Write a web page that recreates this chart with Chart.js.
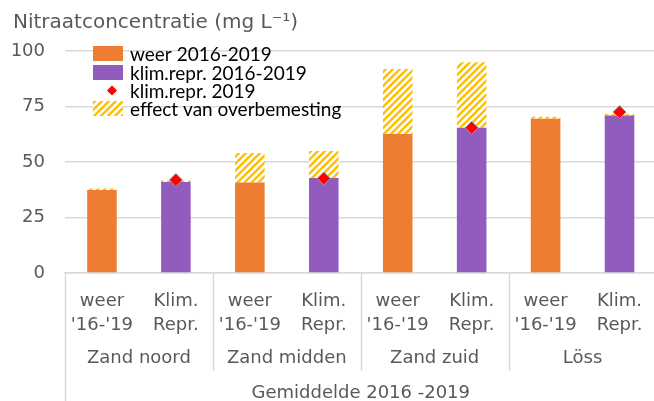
<!DOCTYPE html>
<html>
<head>
<meta charset="utf-8">
<script src="https://cdn.jsdelivr.net/npm/chart.js@4"></script>
<style>
  html, body { margin: 0; padding: 0; overflow: hidden; background: #fff; }
  #wrap { width: 664px; height: 401px; }
</style>
</head>
<body>
<div id="wrap"><canvas id="nitraat" width="664" height="401"></canvas></div>
<script>
/* -------- DATA -------- */
const categories = [
  ["weer", "'16-'19"], ["Klim.", "Repr."],
  ["weer", "'16-'19"], ["Klim.", "Repr."],
  ["weer", "'16-'19"], ["Klim.", "Repr."],
  ["weer", "'16-'19"], ["Klim.", "Repr."]
];
const groups = ["Zand noord", "Zand midden", "Zand zuid", "Löss"];
const overallLabel = "Gemiddelde 2016 -2019";

const weer = [37.4, null, 40.8, null, 62.6, null, 69.5, null];
const klimRepr = [null, 41.0, null, 42.8, null, 65.4, null, 70.9];
const klimRepr2019 = [null, 41.9, null, 42.6, null, 65.4, null, 72.5];
const overbemesting = [0.7, 0.7, 13.2, 12.2, 29.3, 29.5, 0.9, 0.7];

const yTicks = [0, 25, 50, 75, 100];

/* -------- STYLE -------- */
const ORANGE = "#ED7D31";
const PURPLE = "#925CBE";
const YELLOW = "#FFC000";
const GREY_TXT = "#595959";
const GRID = "#D9D9D9";

// diagonal hatch for "effect van overbemesting"
function makeHatch(){
  const c = document.createElement("canvas");
  c.width = 7; c.height = 7;
  const g = c.getContext("2d");
  g.fillStyle = "#fff";
  g.fillRect(0, 0, 7, 7);
  g.strokeStyle = YELLOW;
  g.lineWidth = 2.4;
  g.beginPath();
  g.moveTo(-1, 8); g.lineTo(8, -1);
  g.moveTo(-4, 4); g.lineTo(4, -4);
  g.moveTo(3, 11); g.lineTo(11, 3);
  g.stroke();
  return document.getElementById("nitraat").getContext("2d").createPattern(c, "repeat");
}
const hatch = makeHatch();

/* -------- LEGEND INSIDE PLOT -------- */
const insideLegend = {
  id: "insideLegend",
  afterDraw(chart){
    const ctx = chart.ctx;
    const rows = [53.5, 72.5, 90.5, 108.5];
    ctx.save();
    ctx.font = "19px Lato";
    ctx.textBaseline = "middle";
    chart.data.datasets.forEach((ds, i) => {
      const y = rows[i];
      if (ds.type === "line"){
        ctx.save();
        ctx.translate(112, y);
        ctx.rotate(Math.PI / 4);
        ctx.fillStyle = ds.pointBackgroundColor;
        ctx.fillRect(-3.6, -3.6, 7.2, 7.2);
        ctx.restore();
      } else {
        ctx.fillStyle = ds.backgroundColor;
        ctx.fillRect(93, y - 7.5, 30, 15);
      }
      ctx.fillStyle = "#000";
      ctx.fillText(ds.label, 130, y + 1);
    });
    ctx.restore();
  }
};

/* -------- GROUP LABELS UNDER AXIS -------- */
const groupAxis = {
  id: "groupAxis",
  afterDraw(chart){
    const ctx = chart.ctx;
    const x = chart.scales.x;
    const bottom = chart.chartArea.bottom;
    const gw = (x.right - x.left) / groups.length;
    ctx.save();
    ctx.strokeStyle = GRID;
    ctx.lineWidth = 1.5;
    for (let g = 0; g <= groups.length; g++){
      const px = Math.round(x.left + g * gw) + 0.5;
      ctx.beginPath();
      ctx.moveTo(px, bottom);
      ctx.lineTo(px, g === 0 ? chart.height : 371);
      ctx.stroke();
    }
    ctx.fillStyle = GREY_TXT;
    ctx.font = "18px 'DejaVu Sans'";
    ctx.textAlign = "center";
    ctx.textBaseline = "middle";
    groups.forEach((name, g) => {
      ctx.fillText(name, x.left + (g + 0.5) * gw, 358);
    });
    ctx.fillText(overallLabel, (x.left + x.right) / 2, 393);
    ctx.restore();
  }
};

/* -------- CHART -------- */
new Chart(document.getElementById("nitraat"), {
  data: {
    labels: categories,
    datasets: [
      { type: "bar", label: "weer 2016-2019", data: weer,
        backgroundColor: ORANGE, stack: "s", order: 2 },
      { type: "bar", label: "klim.repr. 2016-2019", data: klimRepr,
        backgroundColor: PURPLE, stack: "s", order: 2 },
      { type: "line", label: "klim.repr. 2019", data: klimRepr2019,
        showLine: false, pointStyle: "rectRot", pointRadius: 6.5,
        pointBackgroundColor: "#FF0000", pointBorderColor: "#9A9A9A",
        pointBorderWidth: 1, stack: "pts", order: 0 },
      { type: "bar", label: "effect van overbemesting", data: overbemesting,
        backgroundColor: hatch, stack: "s", order: 2 }
    ]
  },
  options: {
    responsive: false,
    animation: false,
    layout: { padding: { left: 13, right: 0, top: 0, bottom: 0 } },
    datasets: { bar: { barPercentage: 0.4, categoryPercentage: 1.0 } },
    scales: {
      x: {
        stacked: true,
        grid: { display: false },
        border: { display: true, color: GRID, width: 1.5 },
        ticks: {
          color: GREY_TXT, font: { family: "DejaVu Sans", size: 18, lineHeight: 1.3 },
          autoSkip: false, maxRotation: 0, padding: 9
        },
        afterFit: s => { s.height = 128; }
      },
      y: {
        stacked: true,
        min: 0, max: 100,
        afterBuildTicks: s => { s.ticks = yTicks.map(v => ({ value: v })); },
        grid: { color: GRID, lineWidth: 1.5, drawTicks: false },
        border: { display: false },
        ticks: { color: GREY_TXT, font: { family: "DejaVu Sans", size: 18 }, padding: 20 },
        afterFit: s => { s.width = 52; }
      }
    },
    plugins: {
      legend: { display: false },
      tooltip: { enabled: false },
      title: {
        display: true, align: "start",
        text: "Nitraatconcentratie (mg L⁻¹)",
        color: GREY_TXT,
        font: { family: "DejaVu Sans", size: 20, weight: "normal" },
        padding: { top: 11, bottom: 16 }
      }
    }
  },
  plugins: [insideLegend, groupAxis]
});
</script>
</body>
</html>
